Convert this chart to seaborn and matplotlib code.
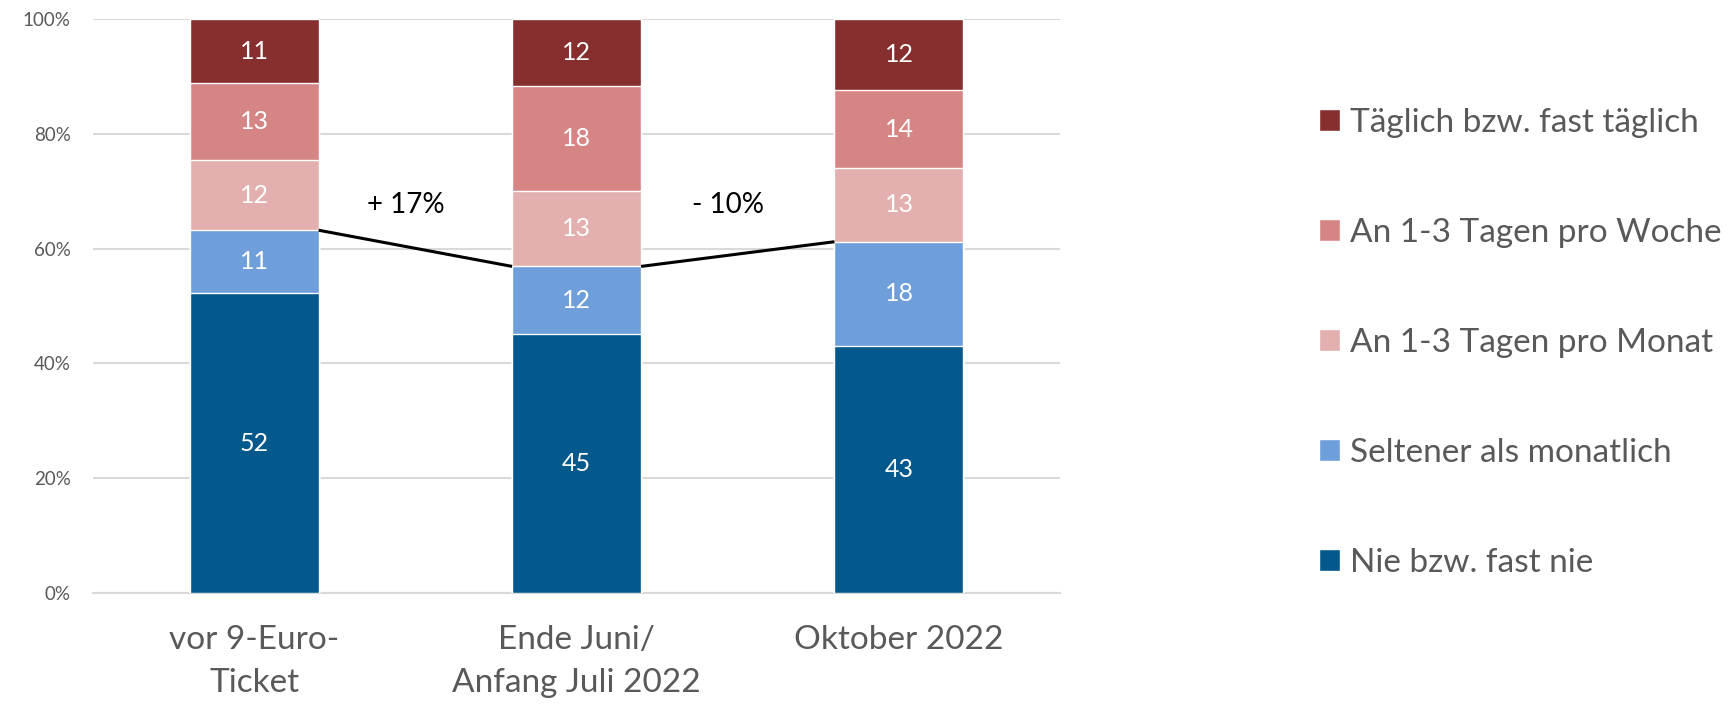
import numpy as np
import pandas as pd
import matplotlib
matplotlib.use('Agg')
import matplotlib.pyplot as plt
from matplotlib.patches import Patch
import seaborn as sns

# ── Daten ─────────────────────────────────────────────────────────────────────
zeitpunkte = ['vor 9-Euro-\nTicket', 'Ende Juni/\nAnfang Juli 2022', 'Oktober 2022']

kategorien = ['Nie bzw. fast nie', 'Seltener als monatlich', 'An 1-3 Tagen pro Monat',
              'An 1-3 Tagen pro Woche', 'Täglich bzw. fast täglich']

nie      = [52.2, 45.1, 43.1]
selten   = [11.0, 11.8, 18.1]
monat    = [12.2, 13.1, 12.8]
woche    = [13.4, 18.3, 13.6]
taeglich = [11.2, 11.7, 12.4]

veraenderung = ['+ 17%', '- 10%']

farben = ['#03588C', '#6F9FDA', '#E4AFAF', '#D68585', '#872E2E']
grau = '#595959'

# ── Stil ──────────────────────────────────────────────────────────────────────
sns.set_style('white')
plt.rcParams['font.family'] = ['Lato', 'DejaVu Sans']

werte = np.array([nie, selten, monat, woche, taeglich])
kumuliert = werte.cumsum(axis=0)

fig = plt.figure(figsize=(17.32, 7.05), dpi=100)
ax = fig.add_axes([0.0537, 0.1589, 0.5584, 0.8141])

breite = 0.4
# gestapelte Balken: von oben nach unten überzeichnen
for i in range(len(kategorien) - 1, -1, -1):
    df = pd.DataFrame({'zeit': zeitpunkte, 'wert': kumuliert[i]})
    sns.barplot(data=df, x='zeit', y='wert', color=farben[i], width=breite,
                saturation=1, ax=ax, zorder=3)

# Wertbeschriftungen
for i in range(len(kategorien)):
    unten = kumuliert[i] - werte[i]
    for j in range(len(zeitpunkte)):
        ax.text(j, unten[j] + werte[i][j] / 2, f'{werte[i][j]:.0f}',
                ha='center', va='center', color='white', fontsize=18, zorder=5)

# Verbindungslinien (Summe der beiden unteren Kategorien)
basis = kumuliert[1]
for j in range(len(zeitpunkte) - 1):
    ax.plot([j + breite / 2, j + 1 - breite / 2], [basis[j], basis[j + 1]],
            color='black', lw=2.2, zorder=4, solid_capstyle='butt')
    ax.text(j + 0.47, 67.6, veraenderung[j], ha='center', va='center',
            fontsize=20, color='black')

ax.set_xlim(-0.5, 2.5)
ax.set_ylim(0, 100)
ax.set_yticks(range(0, 101, 20))
ax.set_yticklabels([f'{v}%' for v in range(0, 101, 20)])
ax.set_xticks(range(len(zeitpunkte)))
ax.set_xticklabels(zeitpunkte, linespacing=1.55)
ax.yaxis.grid(True, color='#D9D9D9', lw=1.5, zorder=0)
ax.set_axisbelow(True)
for s in ['top', 'right', 'left']:
    ax.spines[s].set_visible(False)
ax.spines['bottom'].set_color('#D9D9D9')
ax.spines['bottom'].set_linewidth(1.5)
ax.tick_params(axis='y', length=0, pad=16, labelsize=13.5, labelcolor=grau)
ax.tick_params(axis='x', length=0, pad=23, labelsize=24, labelcolor=grau)
ax.set_xlabel('')
ax.set_ylabel('')

handles = [Patch(facecolor=farben[i], label=kategorien[i]) for i in range(len(kategorien) - 1, -1, -1)]
fig.legend(handles=handles, loc='center left', bbox_to_anchor=(0.7615, 0.5135),
           frameon=False, fontsize=24, labelcolor=grau, labelspacing=2.4,
           handlelength=0.63, handleheight=0.63, handletextpad=0.3,
           borderpad=0, borderaxespad=0)

fig.savefig('out.png', dpi=100)
